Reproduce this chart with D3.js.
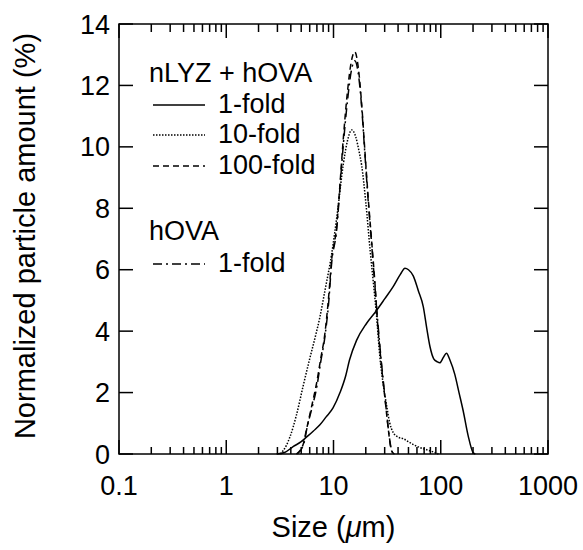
<!DOCTYPE html>
<html>
<head>
<meta charset="utf-8">
<script src="https://cdn.jsdelivr.net/npm/d3@7"></script>
<style>
  body { margin: 0; background: #fff; }
  text { font-family: "Liberation Sans", Arial, sans-serif; fill: #000; }
</style>
</head>
<body>
<div class="chart-box"></div>
<script>
/* Data: size (um) and normalized amount (%) */
const oneFoldSize = [2.95, 3.5, 4.2, 5.0, 5.6, 6.5, 7.47, 8.5, 9.9, 11.5, 13, 14.1, 16.4, 20.3, 24.3, 30, 36, 42, 46.4, 50, 55.4, 62, 68.7, 74, 79.3, 86, 93, 98, 106, 113, 122, 135, 148, 162, 180, 200, 210];
const oneFoldAmt  = [0, 0.05, 0.24, 0.4, 0.55, 0.75, 0.95, 1.2, 1.5, 2.0, 2.55, 3.06, 3.7, 4.25, 4.6, 5.05, 5.45, 5.85, 6.05, 6.0, 5.8, 5.3, 4.8, 4.1, 3.5, 3.1, 3.0, 2.97, 3.15, 3.28, 3.05, 2.6, 2.0, 1.4, 0.6, 0.05, 0];

const tenFoldSize = [3.2, 3.6, 3.93, 4.5, 5.2, 6.0, 6.8, 7.46, 8.3, 9.6, 11, 12.3, 13.5, 14.8, 16.2, 17.2, 18.3, 20, 22, 23.5, 25.2, 27, 29, 31.2, 33.5, 36, 40, 44.6, 50, 56, 63, 72, 80, 88, 95];
const tenFoldAmt  = [0, 0.25, 0.56, 1.25, 2.2, 3.1, 3.85, 4.45, 5.3, 6.5, 8.0, 9.4, 10.2, 10.55, 10.3, 9.9, 9.4, 8.2, 6.6, 5.6, 4.5, 3.2, 2.3, 1.6, 1.0, 0.7, 0.55, 0.5, 0.4, 0.3, 0.22, 0.15, 0.1, 0.05, 0];

const hundredFoldSize = [4.5, 5.2, 5.6, 6.3, 6.95, 7.6, 8.3, 9.0, 9.6, 10.7, 11.5, 12.3, 13.5, 14.7, 15.8, 17, 18.3, 19.5, 21, 22.6, 24.3, 25.6, 27.1, 28.7, 30.3, 32.5, 34, 35.5, 37];
const hundredFoldAmt  = [0, 0.3, 0.8, 1.6, 2.3, 3.1, 3.9, 5.1, 6.3, 7.4, 8.8, 10.2, 11.8, 12.8, 13.1, 12.6, 11.4, 10.0, 8.4, 7.0, 5.6, 4.4, 3.4, 2.5, 1.76, 0.78, 0.25, 0.05, 0];

const hovaSize = [4.6, 5.3, 5.7, 6.3, 7.0, 7.6, 8.3, 9.0, 9.6, 10.7, 11.5, 12.3, 13.5, 14.7, 15.8, 17, 18.3, 19.5, 21, 22.6, 24.3, 25.6, 27.1, 28.7, 30.3, 32.5, 34, 35.5, 37];
const hovaAmt  = [0, 0.35, 0.9, 1.5, 2.2, 3.0, 3.8, 4.9, 6.2, 7.3, 8.7, 10.0, 11.5, 12.5, 12.8, 12.4, 11.3, 9.9, 8.3, 6.9, 5.5, 4.5, 3.5, 2.6, 1.8, 0.8, 0.3, 0.05, 0];

const xTickValues = [0.1, 1, 10, 100, 1000];
const xTickLabels = ["0.1", "1", "10", "100", "1000"];
const yTickValues = [0, 2, 4, 6, 8, 10, 12, 14];

/* Declare constants */
const width = 583, height = 550;
const margin = {top: 24, right: 35, bottom: 96, left: 119};
const fs = 27;      // tick labels + legend
const titleFs = 29; // axis titles

let svg = d3.select('.chart-box')
  .append('svg')
  .attr('width', width)
  .attr('height', height);

let x = d3.scaleLog().domain([0.1, 1000]).range([margin.left, width - margin.right]);
let y = d3.scaleLinear().domain([0, 14]).range([height - margin.bottom, margin.top]);

const x0 = x.range()[0], x1 = x.range()[1], y0 = y.range()[0], y1 = y.range()[1];

/* ticks (all pointing inward) */
let minor = [];
for (let d = 0.1; d < 1000; d *= 10) for (let k = 2; k <= 9; k++) minor.push(d * k);

let ticks = svg.append("g").attr("stroke", "#000").attr("stroke-width", 1.5);
xTickValues.forEach(v => {
  ticks.append("line").attr("x1", x(v)).attr("x2", x(v)).attr("y1", y0).attr("y2", y0 - 14);
  ticks.append("line").attr("x1", x(v)).attr("x2", x(v)).attr("y1", y1).attr("y2", y1 + 14);
});
minor.forEach(v => {
  ticks.append("line").attr("x1", x(v)).attr("x2", x(v)).attr("y1", y0).attr("y2", y0 - 7);
  ticks.append("line").attr("x1", x(v)).attr("x2", x(v)).attr("y1", y1).attr("y2", y1 + 8);
});
yTickValues.forEach(v => {
  ticks.append("line").attr("x1", x0).attr("x2", x0 + 14).attr("y1", y(v)).attr("y2", y(v));
  ticks.append("line").attr("x1", x1).attr("x2", x1 - 14).attr("y1", y(v)).attr("y2", y(v));
});

svg.append("rect")
  .attr("x", x0).attr("y", y1)
  .attr("width", x1 - x0).attr("height", y0 - y1)
  .attr("fill", "none").attr("stroke", "#000").attr("stroke-width", 1.5);

/* tick labels */
svg.append("g").selectAll("text")
  .data(xTickValues)
  .enter().append("text")
  .attr("x", d => x(d)).attr("y", y0 + 41)
  .attr("text-anchor", "middle")
  .style("font-size", fs + "px")
  .text((d, i) => xTickLabels[i]);

svg.append("g").selectAll("text")
  .data(yTickValues)
  .enter().append("text")
  .attr("x", x0 - 9).attr("y", d => y(d) + 9.5)
  .attr("text-anchor", "end")
  .style("font-size", fs + "px")
  .text(d => d);

/* axis titles */
svg.append("text")
  .attr("x", (x0 + x1) / 2).attr("y", 537)
  .attr("text-anchor", "middle")
  .style("font-size", titleFs + "px")
  .html('Size (<tspan font-style="italic">μ</tspan>m)');

svg.append("text")
  .attr("transform", `translate(35,236) rotate(-90)`)
  .attr("text-anchor", "middle")
  .style("font-size", titleFs + "px")
  .text("Normalized particle amount (%)");

/* series */
const series = [
  {size: oneFoldSize, amt: oneFoldAmt, dash: null},
  {size: tenFoldSize, amt: tenFoldAmt, dash: "1.5,1.5"},
  {size: hundredFoldSize, amt: hundredFoldAmt, dash: "6,4"},
  {size: hovaSize, amt: hovaAmt, dash: "9,4,2,4"}
];

let line = d3.line()
  .x(d => x(d[0]))
  .y(d => y(d[1]))
  .curve(d3.curveMonotoneX);

series.forEach(s => {
  svg.append("path")
    .datum(s.size.map((v, i) => [v, s.amt[i]]))
    .attr("d", line)
    .attr("fill", "none")
    .attr("stroke", "#000")
    .attr("stroke-width", 1.5)
    .attr("stroke-dasharray", s.dash);
});

/* legend */
const legendRows = [
  {label: "nLYZ + hOVA", y: 82, head: true},
  {label: "1-fold", y: 113, dash: null},
  {label: "10-fold", y: 143, dash: "1.5,1.5"},
  {label: "100-fold", y: 174, dash: "6,4"},
  {label: "hOVA", y: 240, head: true},
  {label: "1-fold", y: 272, dash: "9,4,2,4"}
];
let legend = svg.append("g");
legendRows.forEach(r => {
  if (r.head) {
    legend.append("text").attr("x", 149).attr("y", r.y).style("font-size", fs + "px").text(r.label);
  } else {
    legend.append("line")
      .attr("x1", 153).attr("x2", 205)
      .attr("y1", r.y - 8).attr("y2", r.y - 8)
      .attr("stroke", "#000").attr("stroke-width", 1.5)
      .attr("stroke-dasharray", r.dash);
    legend.append("text").attr("x", 218).attr("y", r.y).style("font-size", fs + "px").text(r.label);
  }
});
</script>
</body>
</html>
